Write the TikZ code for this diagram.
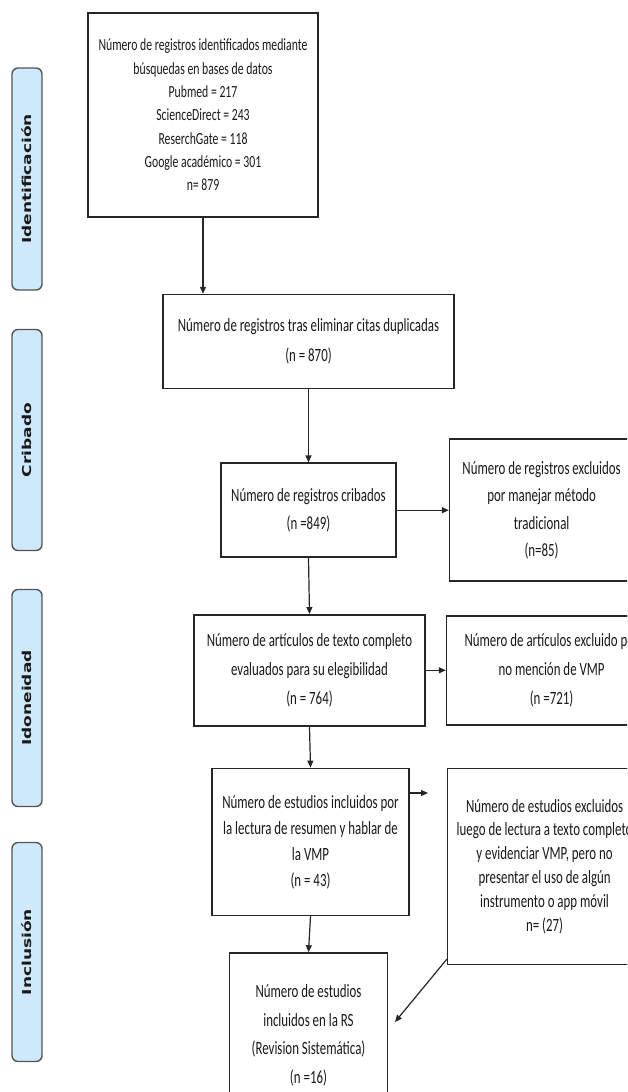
\documentclass[tikz,border=0pt]{standalone}
\usepackage{fontspec}
\setmainfont{Carlito}[FakeStretch=0.69]
\newfontfamily\phasefont{DejaVu Sans}
\usepackage{graphicx}
\usepackage{xcolor}
\definecolor{PhaseBlue}{RGB}{206, 233, 252}
\definecolor{PhaseEdge}{RGB}{85, 85, 85}
\usepackage{tikz}
\usetikzlibrary{arrows.meta, positioning}

\begin{document}
\begin{tikzpicture}[x=1pt, y=-1pt,
    box/.style={draw=black!85, line width=1.6pt, align=center, inner sep=2pt, text=black!90, font=\fontsize{18.7pt}{#1}\selectfont},
    box/.default=24pt,
    phase/.style={draw=PhaseEdge, fill=PhaseBlue, line width=1.4pt, rounded corners=6pt, rotate=90, minimum height=30pt, inner sep=0pt, text=black!90, font=\phasefont\bfseries\fontsize{17pt}{20pt}\selectfont},
    arr/.style={-{Triangle[length=7pt, width=6pt]}, line width=1.2pt, black!85}]
    \useasboundingbox (0,0) rectangle (627,1092);
    \clip (0,0) rectangle (627,1092);
    % fases
    \node[phase, minimum width=222pt] (pIdent) at (27,179) {\scalebox{1}[0.72]{Identificación}};
    \node[phase, minimum width=221pt] (pCrib) at (27,440) {\scalebox{1}[0.72]{Cribado}};
    \node[phase, minimum width=217pt] (pIdon) at (27,698) {\scalebox{1}[0.72]{Idoneidad}};
    \node[phase, minimum width=219pt] (pIncl) at (27,952) {\scalebox{1}[0.72]{Inclusión}};
    % columna principal
    \node[box, font=\fontsize{17pt}{23.3pt}\selectfont, minimum width=230pt, minimum height=204pt] (found) at (203,115) {Número de registros identificados mediante\\búsquedas en bases de datos\\Pubmed = 217\\ScienceDirect = 243\\ReserchGate = 118\\Google académico = 301\\n= 879};
    \node[box=30pt, minimum width=291pt, minimum height=94pt, below=76pt of found, xshift=105.5pt] (dedup) {Número de registros tras eliminar citas duplicadas\\(n = 870)};
    \node[box=28pt, minimum width=175pt, minimum height=94pt, below=73pt of dedup] (screened) {Número de registros cribados\\(n =849)};
    \node[box=29pt, minimum width=231pt, minimum height=111pt, below=56pt of screened, xshift=1pt] (fulltext) {Número de artículos de texto completo\\evaluados para su elegibilidad\\(n = 764)};
    \node[box=26pt, minimum width=197pt, minimum height=147pt, below=41pt of fulltext, xshift=1pt] (included) {Número de estudios incluidos por\\la lectura de resumen y hablar de\\la VMP\\(n = 43)};
    \node[box=28.5pt, minimum width=158pt, minimum height=165pt, below=36pt of included, xshift=-2pt] (final) {Número de estudios\\incluidos en la RS\\(Revision Sistemática)\\(n =16)};
    % excluidos
    \node[box=27.3pt, minimum width=184pt, minimum height=142pt, right=52pt of screened] (exclTrad) {Número de registros excluidos\\por manejar método\\tradicional\\(n=85)};
    \node[box=29pt, minimum width=210pt, minimum height=109pt, right=20pt of fulltext] (exclVMP) {Número de artículos excluido por\\no mención de VMP\\(n =721)};
    \node[box=23.8pt, minimum width=194pt, minimum height=196pt, below right=0pt and 37pt of included.north east] (exclApp) {Número de estudios excluidos\\luego de lectura a texto completo\\y evidenciar VMP, pero no\\presentar el uso de algún\\instrumento o app móvil\\n= (27)};
    \coordinate (endApp) at (428,793);
    \coordinate (endFinal) at (395,1022);
    % flechas
    \draw[arr] (found.south) -- (found.south |- dedup.north);
    \draw[arr] (dedup.south) -- (screened.north);
    \draw[arr] (screened.east) -- (screened.east -| exclTrad.west);
    \draw[arr] (screened.south) -- (fulltext.north);
    \draw[arr] (fulltext.east) -- (fulltext.east -| exclVMP.west);
    \draw[arr] (fulltext.south) -- (included.north);
    \draw[arr] (included.east |- endApp) -- (endApp);
    \draw[arr] (included.south) -- (final.north);
    \draw[arr] ([yshift=6pt]exclApp.south west) -- (endFinal);
\end{tikzpicture}
\end{document}
